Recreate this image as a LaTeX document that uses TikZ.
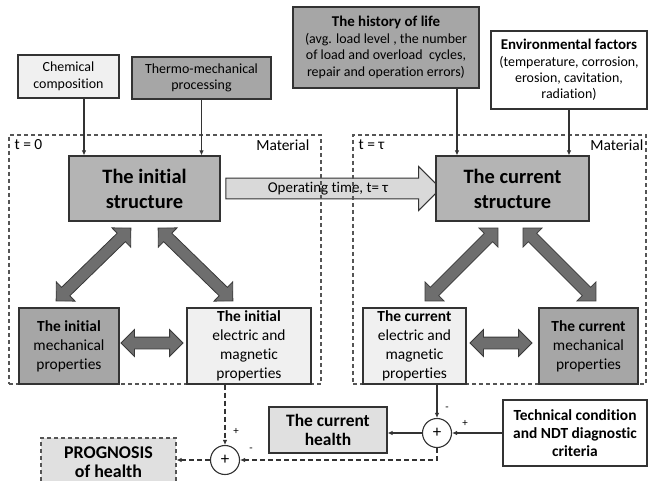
\documentclass[tikz,border=0pt]{standalone}
\usepackage{fontspec}
\setmainfont{Carlito}[Ligatures=CommonOff]
\usetikzlibrary{arrows.meta,shapes.arrows,backgrounds,calc}

\definecolor{boxline}{HTML}{333333}
\definecolor{lightfill}{HTML}{F0F0F0}
\definecolor{structfill}{HTML}{B4B4B4}
\definecolor{darkfill}{HTML}{A6A6A6}
\definecolor{healthfill}{HTML}{E0E0E0}
\definecolor{opfill}{HTML}{D9D9D9}
\definecolor{arrowfill}{HTML}{6E6E6E}
\definecolor{arrowline}{HTML}{3A3A3A}
\definecolor{frameline}{HTML}{555555}

\tikzset{
  box/.style={draw=boxline, line width=1.1bp, align=center, inner sep=0pt},
  frame/.style={draw=frameline, line width=1.1bp, dash pattern=on 4bp off 3bp},
  sarrow/.style={draw=boxline, line width=1.1bp, -{Latex[length=5bp,width=4.5bp]}},
  darrow/.style={sarrow, dash pattern=on 5bp off 3bp},
  bigarrow/.style={double arrow, draw=arrowline, fill=arrowfill, line width=0.8bp,
    inner xsep=0pt, inner ysep=5.5bp, minimum width=26bp, double arrow head extend=7.5bp},
  oparrow/.style={single arrow, draw=boxline, fill=opfill, line width=1bp,
    inner xsep=2bp, inner ysep=3bp, minimum width=44bp, single arrow head extend=11bp,
    font=\fontsize{15}{18}\selectfont},
  sumnode/.style={circle, draw=boxline, fill=white, line width=1.1bp,
    minimum size=29bp, inner sep=0pt, font=\fontsize{17}{18}\selectfont},
  sign/.style={inner sep=0pt, font=\fontsize{11}{12}\selectfont}
}

\newcommand\txtsmall{\fontsize{14}{16.5}\selectfont}
\newcommand\txtmid{\fontsize{15.5}{19}\selectfont}
\newcommand\txtbig{\fontsize{20.5}{25}\selectfont\bfseries}

\begin{document}
\begin{tikzpicture}[x=1bp,y=-1bp]
\useasboundingbox (0,0) rectangle (648,481);

% inputs
\node[box, fill=lightfill, minimum width=101bp, minimum height=43bp, font=\txtsmall] (chem) at (68.5,76.5) {Chemical\\composition};
\node[box, fill=darkfill, minimum width=139bp, minimum height=42bp, font=\txtsmall] (thermo) at (201.5,78) {Thermo-mechanical\\processing};
\node[box, fill=darkfill, minimum width=186bp, minimum height=81bp, font=\txtsmall] (hist) at (386,47.5)
  {{\fontsize{15}{17}\selectfont\bfseries The history of life}\\(avg. load level , the number\\of load and overload\ \ cycles,\\repair and operation errors)};
\node[box, fill=white, minimum width=156bp, minimum height=78bp, font=\txtsmall] (env) at (569,70)
  {{\fontsize{15}{17}\selectfont\bfseries Environmental factors}\\(temperature, corrosion,\\erosion, cavitation,\\radiation)};

% structures
\node[box, fill=structfill, minimum width=151bp, minimum height=65bp, font=\txtbig] (initS) at (144.5,188.5) {The initial\\structure};
\node[box, fill=structfill, minimum width=153bp, minimum height=65bp, font=\txtbig] (curS) at (512.5,188.5) {The current\\structure};

% properties
\node[box, fill=darkfill, minimum width=100bp, minimum height=76bp, font=\txtmid] (initMech) at (69,346) {\textbf{The initial}\\mechanical\\properties};
\node[box, fill=lightfill, minimum width=124bp, minimum height=76bp, font=\txtmid] (initElec) at (249,346) {\textbf{The initial}\\electric and\\magnetic\\properties};
\node[box, fill=lightfill, minimum width=103bp, minimum height=76bp, font=\txtmid] (curElec) at (414.5,346) {\textbf{The current}\\electric and\\magnetic\\properties};
\node[box, fill=darkfill, minimum width=99bp, minimum height=76bp, font=\txtmid] (curMech) at (588.5,346) {\textbf{The current}\\mechanical\\properties};

% health
\node[box, fill=healthfill, minimum width=118bp, minimum height=46bp, font=\fontsize{17.5}{19}\selectfont\bfseries] (health) at (328,430) {The current\\health};
\node[box, fill=white, minimum width=144bp, minimum height=66bp, font=\fontsize{15.5}{18}\selectfont\bfseries] (tech) at (575,433) {Technical condition\\and NDT diagnostic\\criteria};
\node[box, frame, fill=healthfill, minimum width=135bp, minimum height=48bp, font=\fontsize{18}{19}\selectfont\bfseries] (prog) at (108.5,462) {PROGNOSIS\\of health};
\node[sumnode] (sumR) at (437,433) {+};
\node[sumnode] (sumL) at (225,460) {+};

% frames and operating time
\begin{pgfonlayer}{background}
  \path let \p1=($(curS.west)-(initS.east)$), \n1={veclen(\x1,\y1)} in
    (initS.east) -- node[oparrow, minimum height=\n1] (optime) {Operating time, t= τ\hspace{10bp}} (curS.west);
  \node[frame, minimum width=312bp, minimum height=249bp] (matL) at (165,259.5) {};
  \node[frame, minimum width=293bp, minimum height=249bp] (matR) at (499.5,259.5) {};
\end{pgfonlayer}
\node[anchor=north west, inner sep=0pt, font=\txtmid] (tzero) at ([shift={(6,5)}]matL.north west) {t = 0};
\node[anchor=north east, inner sep=0pt, font=\txtmid] (matLtxt) at ([shift={(-12,5)}]matL.north east) {Material};
\node[anchor=north west, inner sep=0pt, font=\txtmid] (ttau) at ([shift={(6,5)}]matR.north west) {t = τ};
\node[anchor=north east, inner sep=0pt, font=\txtmid] (matRtxt) at ([shift={(-3,5)}]matR.north east) {Material};

% input arrows
\coordinate (chemout) at (84,0);
\coordinate (histout) at (457,0);
\draw[sarrow] (chemout |- chem.south) -- (chemout |- initS.north);
\draw[sarrow] (thermo.south) -- (thermo.south |- initS.north);
\draw[sarrow] (histout |- hist.south) -- (histout |- curS.north);
\draw[sarrow] (env.south) -- (env.south |- curS.north);

% double arrows
\coordinate (a1) at (131,228);  \coordinate (b1) at (56,301);
\coordinate (a2) at (158,228);  \coordinate (b2) at (233,301);
\coordinate (a3) at (121,343);  \coordinate (b3) at (183,343);
\coordinate (a4) at (498,228);  \coordinate (b4) at (425,301);
\coordinate (a5) at (523,228);  \coordinate (b5) at (596,301);
\coordinate (a6) at (470,343);  \coordinate (b6) at (532,343);
\foreach \i in {1,...,6}{
  \path let \p1=($(b\i)-(a\i)$), \n1={veclen(\x1,\y1)} in
    (a\i) -- node[bigarrow, sloped, minimum height=\n1] (dbl\i) {} (b\i);
}

% health loop
\draw[sarrow] (sumR.north |- curElec.south) -- (sumR.north);
\draw[sarrow] (tech.west) -- (sumR.east);
\draw[sarrow] (sumR.west) -- (sumR.west -| health.east);
\draw[darrow] (sumR.south) |- (sumL.east);
\draw[darrow] (sumL.north |- initElec.south) -- (sumL.north);
\draw[darrow] (sumL.west) -- (sumL.west -| prog.east);
\node[sign] (mR) at (447,409) {-};
\node[sign] (pR) at (465,423) {+};
\node[sign] (pL) at (236,431) {+};
\node[sign] (mL) at (251,450) {-};
\end{tikzpicture}
\end{document}
